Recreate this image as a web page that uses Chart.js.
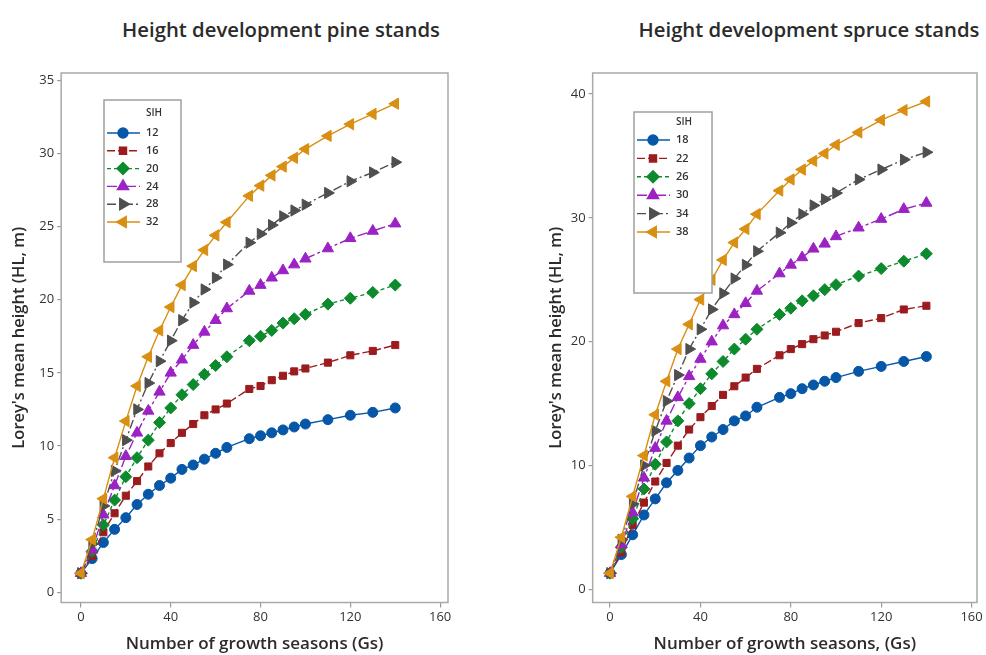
<!DOCTYPE html>
<html lang="en">
<head>
<meta charset="UTF-8">
<title>Height development</title>
<script src="https://cdn.jsdelivr.net/npm/chart.js@4.4.1/dist/chart.umd.min.js"></script>
<style>
    body {
        margin: 0;
        padding: 0;
        background: #fff;
        width: 986px;
        height: 655px;
        position: relative;
        overflow: hidden;
        font-family: "Open Sans", sans-serif;
    }

    .title {
        position: absolute;
        top: 19px;
        font-size: 20.3px;
        line-height: 20px;
        font-weight: 600;
        color: #2b2b2b;
        white-space: nowrap;
        transform: translateX(-50%);
    }

    canvas {
        position: absolute;
    }
</style>
</head>
<body>
<div class="title" style="left:281px">Height development pine stands</div>
<div class="title" style="left:809px">Height development spruce stands</div>
<canvas id="pineChart" width="470" height="600" style="left:0;top:55px"></canvas>
<canvas id="spruceChart" width="456" height="600" style="left:530px;top:55px"></canvas>

<script>
    // growth seasons (x) shared by every curve
    const growthSeasons = [0, 5, 10, 15, 20, 25, 30, 35, 40, 45, 50, 55, 60, 65, 75, 80, 85, 90, 95, 100, 110, 120, 130, 140];

    // pine, SIH 12..32
    const pineSIH = ['12', '16', '20', '24', '28', '32'];
    const pine12 = [1.3, 2.3, 3.4, 4.3, 5.1, 6.0, 6.7, 7.3, 7.8, 8.4, 8.7, 9.1, 9.5, 9.9, 10.5, 10.7, 10.9, 11.1, 11.3, 11.5, 11.8, 12.1, 12.3, 12.6];
    const pine16 = [1.3, 2.5, 4.1, 5.4, 6.6, 7.6, 8.6, 9.5, 10.2, 10.9, 11.5, 12.1, 12.5, 12.9, 13.9, 14.1, 14.5, 14.8, 15.1, 15.3, 15.7, 16.2, 16.5, 16.9];
    const pine20 = [1.3, 2.8, 4.6, 6.3, 7.9, 9.2, 10.4, 11.6, 12.6, 13.5, 14.2, 14.9, 15.5, 16.1, 17.2, 17.5, 17.9, 18.4, 18.7, 19.0, 19.7, 20.1, 20.5, 21.0];
    const pine24 = [1.3, 2.9, 5.3, 7.3, 9.3, 10.9, 12.4, 13.7, 15.0, 15.9, 16.9, 17.8, 18.6, 19.4, 20.6, 21.0, 21.5, 22.0, 22.4, 22.8, 23.5, 24.2, 24.7, 25.2];
    const pine28 = [1.3, 3.3, 5.9, 8.3, 10.4, 12.5, 14.3, 15.8, 17.2, 18.6, 19.8, 20.7, 21.5, 22.4, 23.9, 24.5, 25.1, 25.7, 26.1, 26.5, 27.3, 28.1, 28.7, 29.4];
    const pine32 = [1.3, 3.6, 6.4, 9.2, 11.7, 14.1, 16.1, 17.9, 19.5, 21.0, 22.3, 23.4, 24.4, 25.3, 27.1, 27.8, 28.5, 29.1, 29.7, 30.3, 31.2, 32.0, 32.7, 33.4];

    // spruce, SIH 18..38
    const spruceSIH = ['18', '22', '26', '30', '34', '38'];
    const spruce18 = [1.3, 2.8, 4.4, 6.0, 7.3, 8.6, 9.6, 10.6, 11.6, 12.3, 12.9, 13.6, 14.0, 14.7, 15.5, 15.8, 16.2, 16.5, 16.8, 17.1, 17.6, 18.0, 18.4, 18.8];
    const spruce22 = [1.3, 3.0, 5.2, 7.0, 8.7, 10.2, 11.6, 12.9, 13.9, 14.8, 15.7, 16.4, 17.1, 17.8, 18.9, 19.4, 19.8, 20.2, 20.5, 20.8, 21.5, 21.9, 22.6, 22.9];
    const spruce26 = [1.3, 3.4, 5.7, 8.1, 10.1, 11.9, 13.6, 15.0, 16.2, 17.4, 18.4, 19.4, 20.2, 21.0, 22.2, 22.7, 23.3, 23.7, 24.2, 24.6, 25.3, 25.9, 26.5, 27.1];
    const spruce30 = [1.3, 3.6, 6.2, 9.0, 11.4, 13.6, 15.5, 17.2, 18.6, 20.0, 21.3, 22.2, 23.1, 24.1, 25.5, 26.2, 26.8, 27.5, 27.9, 28.5, 29.2, 29.9, 30.7, 31.2];
    const spruce34 = [1.3, 4.0, 6.9, 10.0, 12.8, 15.2, 17.3, 19.4, 21.0, 22.6, 23.9, 25.1, 26.2, 27.3, 28.8, 29.6, 30.3, 31.0, 31.5, 32.0, 33.1, 33.9, 34.7, 35.3];
    const spruce38 = [1.3, 4.2, 7.5, 10.8, 14.1, 16.8, 19.4, 21.4, 23.4, 25.0, 26.6, 28.0, 29.1, 30.3, 32.2, 33.1, 33.9, 34.6, 35.2, 35.9, 36.9, 37.9, 38.7, 39.4];

    // tick labels
    const xTicks = [0, 40, 80, 120, 160];
    const pineYTicks = [0, 5, 10, 15, 20, 25, 30, 35];
    const spruceYTicks = [0, 10, 20, 30, 40];

    // minitab-ish series look
    const seriesStyle = [
        {color: '#0657a8', style: 'circle', rot: 0, r: 5, dash: []},
        {color: '#9b1c1f', style: 'rect', rot: 0, r: 5, dash: [8, 3]},
        {color: '#0c8a2c', style: 'rectRot', rot: 0, r: 6, dash: [4, 3]},
        {color: '#9c22c4', style: 'triangle', rot: 0, r: 6.5, dash: [10, 3, 3, 3]},
        {color: '#4f4f4f', style: 'triangle', rot: 90, r: 6.5, dash: [9, 3, 2, 3]},
        {color: '#d98f12', style: 'triangle', rot: -90, r: 6.5, dash: []}
    ];

    function makeDatasets(labels, series) {
        return series.map((vals, i) => {
            const s = seriesStyle[i];
            return {
                label: labels[i],
                data: growthSeasons.map((x, k) => ({x: x, y: vals[k]})),
                borderColor: s.color,
                backgroundColor: s.color,
                borderWidth: 1.4,
                borderDash: s.dash,
                pointStyle: s.style,
                pointRotation: s.rot,
                pointRadius: s.r,
                pointBackgroundColor: s.color,
                pointBorderColor: s.color,
                pointBorderWidth: 1,
                tension: 0,
                order: series.length - i
            };
        });
    }

    // grey frame round the plot area
    const framePlugin = {
        id: 'frame',
        beforeDatasetsDraw(chart) {
            const a = chart.chartArea;
            const ctx = chart.ctx;
            ctx.save();
            ctx.strokeStyle = '#a9a9a9';
            ctx.lineWidth = 1.5;
            ctx.strokeRect(a.left, a.top, a.right - a.left, a.bottom - a.top);
            ctx.restore();
        }
    };

    // legend box inside the plot, with SIH heading
    const sihLegend = {
        id: 'sihLegend',
        afterDatasetsDraw(chart, args, opts) {
            const ctx = chart.ctx;
            ctx.save();
            ctx.fillStyle = '#fff';
            ctx.fillRect(opts.x, opts.y, opts.w, opts.h);
            ctx.strokeStyle = '#a0a0a0';
            ctx.lineWidth = 1.5;
            ctx.strokeRect(opts.x, opts.y, opts.w, opts.h);

            ctx.font = '600 10px "Open Sans"';
            ctx.fillStyle = '#333';
            ctx.textBaseline = 'middle';
            ctx.textAlign = 'left';
            ctx.fillText('SIH', opts.x + 42, opts.y + opts.head);

            chart.data.datasets.forEach((ds, i) => {
                const y = opts.y + opts.first + i * opts.step;
                ctx.strokeStyle = ds.borderColor;
                ctx.lineWidth = 1.4;
                ctx.setLineDash(ds.borderDash);
                ctx.beginPath();
                ctx.moveTo(opts.x + 3, y);
                ctx.lineTo(opts.x + 36, y);
                ctx.stroke();
                ctx.setLineDash([]);
                ctx.fillStyle = ds.borderColor;
                Chart.helpers.drawPoint(ctx, {
                    pointStyle: ds.pointStyle,
                    rotation: ds.pointRotation,
                    radius: ds.pointRadius,
                    borderWidth: 1
                }, opts.x + 19, y);
                ctx.font = '600 11px "Open Sans"';
                ctx.fillStyle = '#333';
                ctx.fillText(ds.label, opts.x + 42, y);
            });
            ctx.restore();
        }
    };

    function makeOptions(cfg) {
        return {
            responsive: false,
            animation: false,
            layout: {padding: {left: 0, right: cfg.padRight, top: 18, bottom: 0}},
            plugins: {
                legend: {display: false},
                tooltip: {enabled: false},
                sihLegend: cfg.legend
            },
            scales: {
                x: {
                    type: 'linear',
                    min: cfg.xMin,
                    max: cfg.xMax,
                    afterBuildTicks: axis => { axis.ticks = xTicks.map(v => ({value: v})); },
                    border: {display: false},
                    grid: {drawOnChartArea: false, tickLength: 5, color: '#9a9a9a', lineWidth: 1.2},
                    ticks: {font: {family: 'Open Sans', size: 13}, color: '#333', padding: 2, maxRotation: 0},
                    title: {
                        display: true,
                        text: cfg.xTitle,
                        font: {family: 'Open Sans', size: 17, weight: '600'},
                        color: '#2b2b2b',
                        padding: {top: 7, bottom: 0.5}
                    }
                },
                y: {
                    min: cfg.yMin,
                    max: cfg.yMax,
                    afterBuildTicks: axis => { axis.ticks = cfg.yTicks.map(v => ({value: v})); },
                    border: {display: false},
                    grid: {drawOnChartArea: false, tickLength: 4, color: '#9a9a9a', lineWidth: 1.2},
                    ticks: {font: {family: 'Open Sans', size: 13}, color: '#333', padding: 3},
                    title: {
                        display: true,
                        text: "Lorey's mean height (HL, m)",
                        font: {family: 'Open Sans', size: 16.5, weight: '600'},
                        color: '#2b2b2b',
                        padding: cfg.yTitlePad
                    }
                }
            }
        };
    }

    new Chart(document.getElementById('pineChart'), {
        type: 'line',
        data: {datasets: makeDatasets(pineSIH, [pine12, pine16, pine20, pine24, pine28, pine32])},
        options: makeOptions({
            xMin: -8.8, xMax: 163.5, yMin: -0.7, yMax: 35.5,
            yTicks: pineYTicks,
            padRight: 22,
            xTitle: 'Number of growth seasons (Gs)',
            yTitlePad: {top: 9.5, bottom: 7},
            legend: {x: 104, y: 45, w: 77, h: 162, head: 13, first: 33, step: 17.8}
        }),
        plugins: [framePlugin, sihLegend]
    });

    new Chart(document.getElementById('spruceChart'), {
        type: 'line',
        data: {datasets: makeDatasets(spruceSIH, [spruce18, spruce22, spruce26, spruce30, spruce34, spruce38])},
        options: makeOptions({
            xMin: -7.7, xMax: 162.4, yMin: -1.07, yMax: 41.7,
            yTicks: spruceYTicks,
            padRight: 9,
            xTitle: 'Number of growth seasons, (Gs)',
            yTitlePad: {top: 16, bottom: 2},
            legend: {x: 104, y: 57, w: 78, h: 181, head: 10, first: 28, step: 18.4}
        }),
        plugins: [framePlugin, sihLegend]
    });
</script>
</body>
</html>
